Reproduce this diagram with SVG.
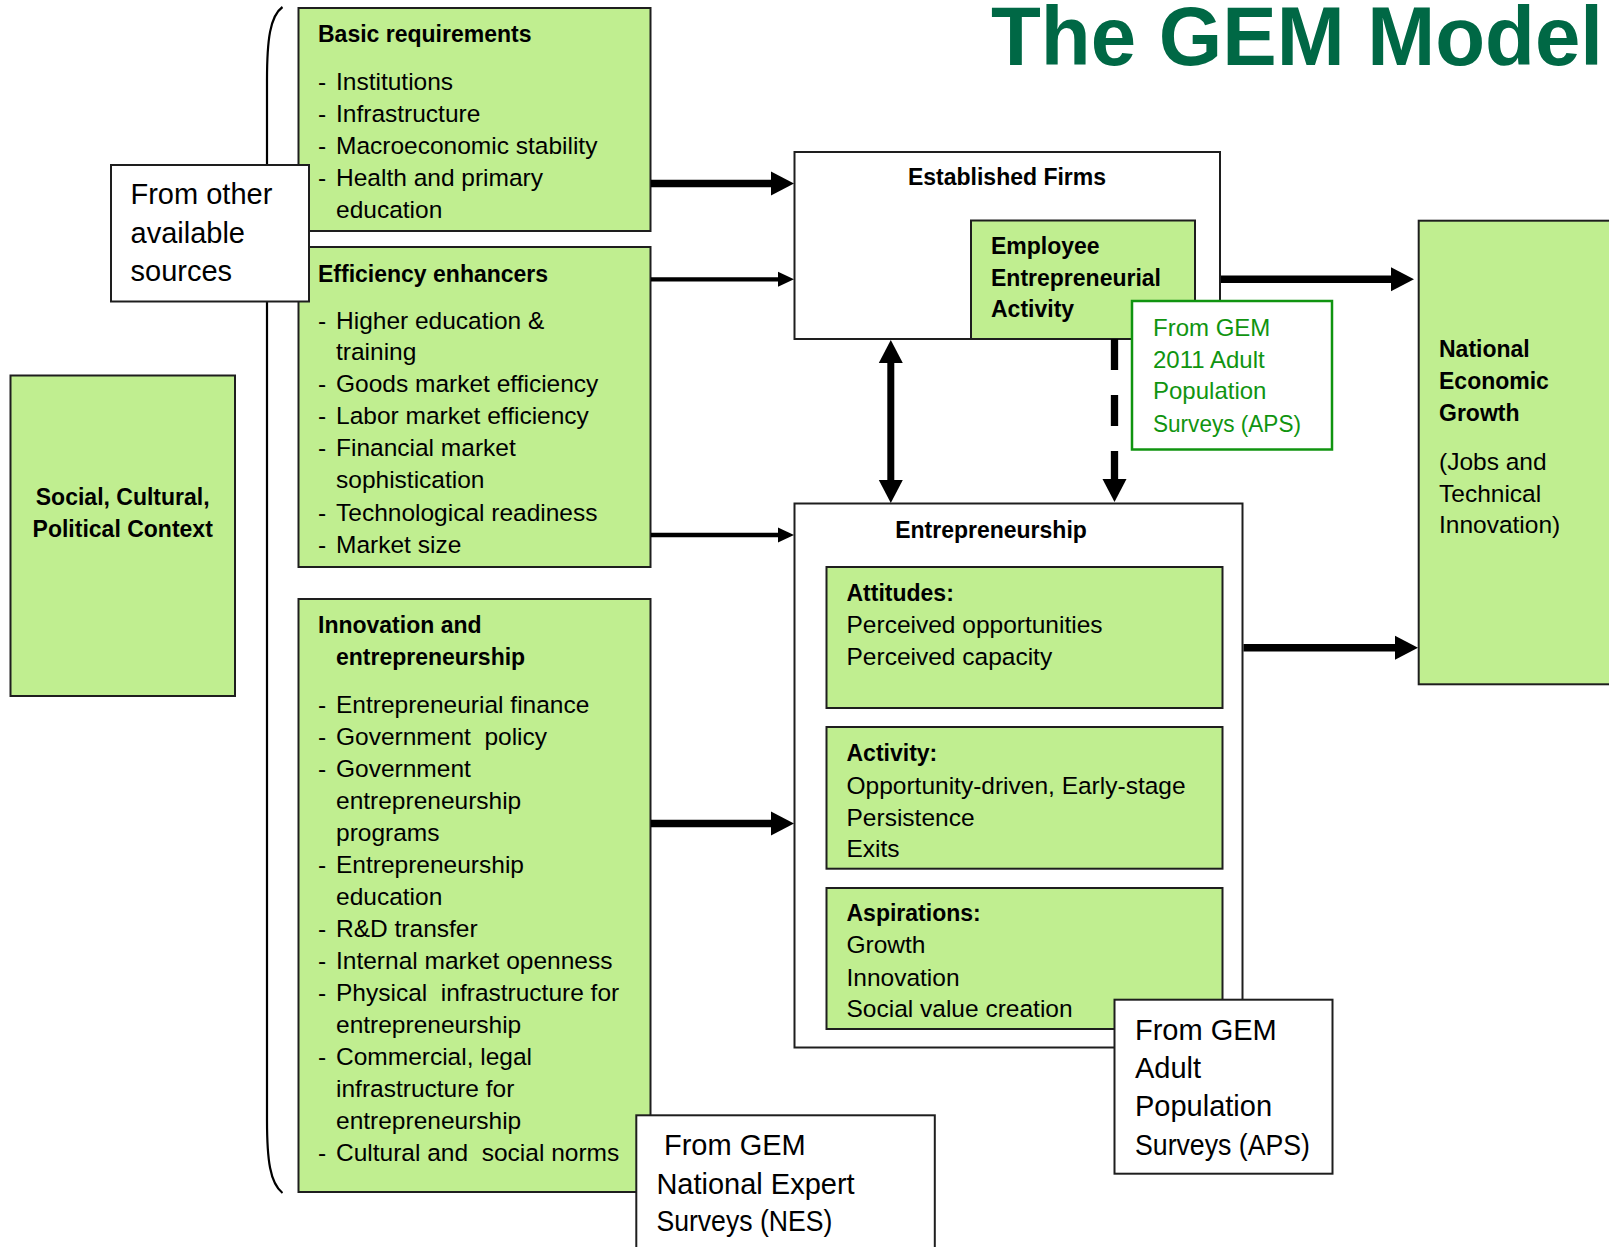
<svg xmlns="http://www.w3.org/2000/svg" width="1609" height="1247" viewBox="0 0 1609 1247">
<defs>
<style>
.g{fill:#C0EE90;stroke:#1e1e1e;stroke-width:2}
.w{fill:#ffffff;stroke:#1e1e1e;stroke-width:2}
.gb{fill:#ffffff;stroke:#109410;stroke-width:2.5}
text{font-family:"Liberation Sans",Arial,sans-serif;fill:#000}
.t{font-size:24.5px}
.b{font-size:23px;font-weight:bold}
.L{font-size:29px}
.gt{font-size:24px;fill:#109410}
.c{text-anchor:middle}
.title{font-size:83px;font-weight:bold;fill:#006845}
.ak{stroke:#000;stroke-width:7.5;fill:none}
.an{stroke:#000;stroke-width:4.3;fill:none}
</style>
<marker id="hk" markerUnits="userSpaceOnUse" markerWidth="24" markerHeight="24" refX="3" refY="12" orient="auto-start-reverse" overflow="visible">
<path d="M0,0 L23,12 L0,24 z" fill="#000"/>
</marker>
<marker id="hn" markerUnits="userSpaceOnUse" markerWidth="16" markerHeight="15" refX="2" refY="7.5" orient="auto" overflow="visible">
<path d="M0,0 L16,7.5 L0,15 z" fill="#000"/>
</marker>
</defs>

<text class="title" x="991" y="65" textLength="612" lengthAdjust="spacingAndGlyphs">The GEM Model</text>

<g id="brace">
<path d="M282.5,7 C270,16 267,40 267,80 L267,1120 C267,1160 270,1183 282.5,1193" fill="none" stroke="#000" stroke-width="2.2"/>
</g>

<g id="social-context">
<rect class="g" x="10.5" y="375.5" width="224.5" height="320.5"/>
<text class="b c" x="122.7" y="505">Social, Cultural,</text>
<text class="b c" x="122.7" y="537.3">Political Context</text>
</g>

<g id="basic-requirements">
<rect class="g" x="298.5" y="8" width="352" height="223"/>
<text class="b" x="318" y="42">Basic requirements</text>
<text class="t" y="89.5"><tspan x="318">-</tspan><tspan x="336">Institutions</tspan></text>
<text class="t" y="121.5"><tspan x="318">-</tspan><tspan x="336">Infrastructure</tspan></text>
<text class="t" y="153.5"><tspan x="318">-</tspan><tspan x="336">Macroeconomic stability</tspan></text>
<text class="t" y="185.5"><tspan x="318">-</tspan><tspan x="336">Health and primary</tspan></text>
<text class="t" x="336" y="217.5">education</text>
</g>

<g id="efficiency-enhancers">
<rect class="g" x="298.5" y="247" width="352" height="320"/>
<text class="b" x="318" y="281.7">Efficiency enhancers</text>
<text class="t" y="328.5"><tspan x="318">-</tspan><tspan x="336">Higher education &amp;</tspan></text>
<text class="t" x="336" y="360">training</text>
<text class="t" y="392"><tspan x="318">-</tspan><tspan x="336">Goods market efficiency</tspan></text>
<text class="t" y="424"><tspan x="318">-</tspan><tspan x="336">Labor market efficiency</tspan></text>
<text class="t" y="456"><tspan x="318">-</tspan><tspan x="336">Financial market</tspan></text>
<text class="t" x="336" y="488">sophistication</text>
<text class="t" y="520.5"><tspan x="318">-</tspan><tspan x="336">Technological readiness</tspan></text>
<text class="t" y="552.5"><tspan x="318">-</tspan><tspan x="336">Market size</tspan></text>
</g>

<g id="innovation-entrepreneurship">
<rect class="g" x="298.5" y="599" width="352" height="593"/>
<text class="b" x="318" y="633">Innovation and</text>
<text class="b" x="336" y="665">entrepreneurship</text>
<text class="t" y="713"><tspan x="318">-</tspan><tspan x="336">Entrepreneurial finance</tspan></text>
<text class="t" y="745"><tspan x="318">-</tspan><tspan x="336">Government&#160; policy</tspan></text>
<text class="t" y="777"><tspan x="318">-</tspan><tspan x="336">Government</tspan></text>
<text class="t" x="336" y="809">entrepreneurship</text>
<text class="t" x="336" y="841">programs</text>
<text class="t" y="873"><tspan x="318">-</tspan><tspan x="336">Entrepreneurship</tspan></text>
<text class="t" x="336" y="905">education</text>
<text class="t" y="937"><tspan x="318">-</tspan><tspan x="336">R&amp;D transfer</tspan></text>
<text class="t" y="969"><tspan x="318">-</tspan><tspan x="336">Internal market openness</tspan></text>
<text class="t" y="1001"><tspan x="318">-</tspan><tspan x="336">Physical&#160; infrastructure for</tspan></text>
<text class="t" x="336" y="1033">entrepreneurship</text>
<text class="t" y="1065"><tspan x="318">-</tspan><tspan x="336">Commercial, legal</tspan></text>
<text class="t" x="336" y="1097">infrastructure for</text>
<text class="t" x="336" y="1129">entrepreneurship</text>
<text class="t" y="1161"><tspan x="318">-</tspan><tspan x="336">Cultural and&#160; social norms</tspan></text>
</g>

<g id="from-other-sources">
<rect class="w" x="111" y="165" width="198" height="136.5"/>
<text class="L" x="130.5" y="204">From other</text>
<text class="L" x="130.5" y="242.7">available</text>
<text class="L" x="130.5" y="281">sources</text>
</g>

<g id="from-gem-nes">
<rect class="w" x="636.3" y="1115.3" width="298.5" height="145"/>
<text class="L" x="664" y="1155">From GEM</text>
<text class="L" x="656.4" y="1194">National Expert</text>
<text class="L" x="656.4" y="1231" textLength="176" lengthAdjust="spacingAndGlyphs">Surveys (NES)</text>
</g>

<g id="established-firms">
<rect class="w" x="794.5" y="152" width="425.5" height="187"/>
<text class="b c" x="1007" y="185">Established Firms</text>
</g>

<g id="employee-entrepreneurial-activity">
<rect class="g" x="971" y="220.5" width="224" height="118.5"/>
<text class="b" x="991" y="254">Employee</text>
<text class="b" x="991" y="286">Entrepreneurial</text>
<text class="b" x="991" y="317">Activity</text>
</g>

<g id="from-gem-2011-aps">
<rect class="gb" x="1132" y="301" width="200" height="148.5"/>
<text class="gt" x="1153" y="336">From GEM</text>
<text class="gt" x="1153" y="367.7">2011 Adult</text>
<text class="gt" x="1153" y="399.3">Population</text>
<text class="gt" x="1153" y="431.7" textLength="148" lengthAdjust="spacingAndGlyphs">Surveys (APS)</text>
</g>

<g id="entrepreneurship">
<rect class="w" x="794.5" y="503.5" width="448" height="544" stroke="#333"/>
<text class="b c" x="991" y="537.7">Entrepreneurship</text>
</g>

<g id="attitudes">
<rect class="g" x="826.5" y="567" width="396" height="141"/>
<text class="b" x="846.5" y="600.7">Attitudes:</text>
<text class="t" x="846.5" y="632.7">Perceived opportunities</text>
<text class="t" x="846.5" y="665">Perceived capacity</text>
</g>

<g id="activity">
<rect class="g" x="826.5" y="727" width="396" height="141.7"/>
<text class="b" x="846.5" y="761.4">Activity:</text>
<text class="t" x="846.5" y="794">Opportunity-driven, Early-stage</text>
<text class="t" x="846.5" y="825.7">Persistence</text>
<text class="t" x="846.5" y="857.2">Exits</text>
</g>

<g id="aspirations">
<rect class="g" x="826.5" y="888" width="396" height="141"/>
<text class="b" x="846.5" y="920.5">Aspirations:</text>
<text class="t" x="846.5" y="953">Growth</text>
<text class="t" x="846.5" y="985.6">Innovation</text>
<text class="t" x="846.5" y="1017">Social value creation</text>
</g>

<g id="from-gem-aps">
<rect class="w" x="1114.5" y="999.7" width="218" height="174"/>
<text class="L" x="1135" y="1040">From GEM</text>
<text class="L" x="1135" y="1078">Adult</text>
<text class="L" x="1135" y="1116">Population</text>
<text class="L" x="1135" y="1154.5" textLength="175" lengthAdjust="spacingAndGlyphs">Surveys (APS)</text>
</g>

<g id="national-economic-growth">
<rect class="g" x="1418.7" y="220.7" width="200" height="463.6"/>
<text class="b" x="1439" y="356.7">National</text>
<text class="b" x="1439" y="389">Economic</text>
<text class="b" x="1439" y="421">Growth</text>
<text class="t" x="1439" y="470">(Jobs and</text>
<text class="t" x="1439" y="501.7">Technical</text>
<text class="t" x="1439" y="533.3">Innovation)</text>
</g>

<g id="connectors">
<line class="ak" x1="651" y1="183.5" x2="774" y2="183.5" marker-end="url(#hk)"/>
<line class="an" x1="651" y1="279.3" x2="780" y2="279.3" marker-end="url(#hn)"/>
<line class="an" x1="651" y1="535" x2="780" y2="535" marker-end="url(#hn)"/>
<line class="ak" x1="651" y1="823.4" x2="774" y2="823.4" marker-end="url(#hk)"/>
<line class="ak" x1="1221" y1="279.3" x2="1394" y2="279.3" marker-end="url(#hk)"/>
<line class="ak" x1="1243.5" y1="647.7" x2="1398" y2="647.7" marker-end="url(#hk)"/>
<line class="ak" style="stroke-width:7" x1="890.8" y1="360" x2="890.8" y2="483" marker-start="url(#hk)" marker-end="url(#hk)"/>
<line class="ak" style="stroke-width:7.3" x1="1114.5" y1="339" x2="1114.5" y2="482" stroke-dasharray="31 25" marker-end="url(#hk)"/>
</g>
</svg>
